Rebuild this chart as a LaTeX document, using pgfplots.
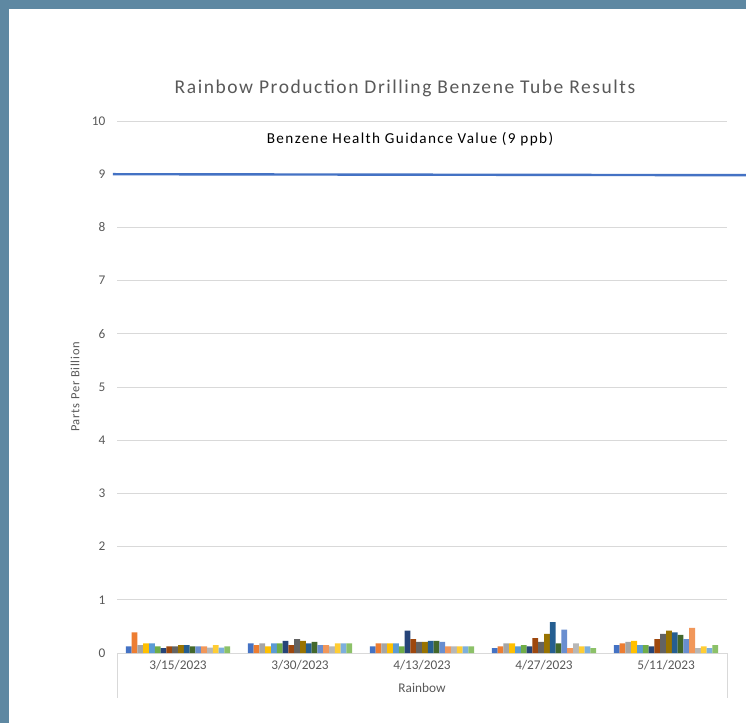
\documentclass[border=0pt]{standalone}
\usepackage{pgfplots}
\pgfplotsset{compat=1.18}
\usepackage{pgfplotstable}
\usepackage{fontspec}
\setmainfont{Carlito}
\newfontfamily\titlefont[LetterSpace=8]{Carlito}
\newfontfamily\annfont[LetterSpace=9]{Carlito}
\newfontfamily\labfont[LetterSpace=6]{Carlito}
\definecolor{c1}{HTML}{4472C4}
\definecolor{c2}{HTML}{ED7D31}
\definecolor{c3}{HTML}{A5A5A5}
\definecolor{c4}{HTML}{FFC000}
\definecolor{c5}{HTML}{5B9BD5}
\definecolor{c6}{HTML}{70AD47}
\definecolor{c7}{HTML}{264478}
\definecolor{c8}{HTML}{9E480E}
\definecolor{c9}{HTML}{636363}
\definecolor{c10}{HTML}{997300}
\definecolor{c11}{HTML}{255E91}
\definecolor{c12}{HTML}{43682B}
\definecolor{c13}{HTML}{698ED0}
\definecolor{c14}{HTML}{F1975A}
\definecolor{c15}{HTML}{B7B7B7}
\definecolor{c16}{HTML}{FFCD33}
\definecolor{c17}{HTML}{7CAFDD}
\definecolor{c18}{HTML}{8CC168}
\definecolor{txt}{HTML}{595959}
\definecolor{gridc}{HTML}{D9D9D9}
\definecolor{framec}{HTML}{5E88A2}

\pgfplotstableread{
x s1 s2 s3 s4 s5 s6 s7 s8 s9 s10 s11 s12 s13 s14 s15 s16 s17 s18
0 0.125 0.39 0.15 0.18 0.18 0.125 0.094 0.125 0.125 0.15 0.15 0.125 0.125 0.125 0.10 0.15 0.10 0.125
1 0.18 0.15 0.18 0.125 0.18 0.18 0.23 0.15 0.26 0.23 0.18 0.21 0.15 0.15 0.125 0.18 0.18 0.18
2 0.125 0.18 0.18 0.18 0.18 0.125 0.42 0.26 0.21 0.21 0.23 0.23 0.21 0.125 0.125 0.125 0.125 0.125
3 0.094 0.125 0.18 0.18 0.125 0.15 0.125 0.28 0.21 0.36 0.58 0.18 0.44 0.094 0.18 0.125 0.125 0.094
4 0.15 0.18 0.21 0.23 0.15 0.15 0.125 0.26 0.36 0.42 0.39 0.34 0.26 0.47 0.094 0.125 0.094 0.15
}\data

\begin{document}
\begin{tikzpicture}
\path[use as bounding box] (0pt,0pt) rectangle (746pt,723pt);
\fill[framec] (0pt,0pt) rectangle (746pt,723pt);
\fill[white] (9pt,0pt) rectangle (746pt,714pt);
\begin{axis}[
  at={(117pt,70pt)}, anchor=south west,
  scale only axis, width=610pt, height=532pt,
  xmin=-0.5, xmax=4.5, ymin=0, ymax=10,
  ytick={0,1,...,10}, xtick={0,1,2,3,4},
  xticklabels={3/15/2023,3/30/2023,4/13/2023,4/27/2023,5/11/2023},
  ymajorgrids, grid style={gridc, line width=0.9pt},
  axis line style={draw=none}, major tick length=0pt,
  clip=false,
  /pgf/number format/assume math mode=true,
  tick label style={font=\fontsize{13.3}{15}\selectfont, text=txt},
  yticklabel style={anchor=east, xshift=-8pt},
  xticklabel style={anchor=center, yshift=-12pt},
]
\pgfplotsinvokeforeach{1,...,18}{
  \addplot[ybar, bar width=5.8pt, bar shift={(#1-9.5)*5.8pt}, fill=c#1, draw=none] table[x=x, y=s#1] {\data};
}
\addplot[sharp plot, color=c1, line width=2.4pt, no marks] coordinates {(-0.533,9) (5.0,8.98)};
\end{axis}
\draw[gridc, line width=0.9pt] (117pt,70pt) -- (117pt,25pt);
\draw[gridc, line width=0.9pt] (727pt,70pt) -- (727pt,25pt);
\node[text=txt, font=\titlefont\fontsize{19.5}{23}\selectfont] at (405pt,635pt) {Rainbow Production Drilling Benzene Tube Results};
\node[text=black, font=\annfont\fontsize{15.2}{18}\selectfont] at (410pt,584pt) {Benzene Health Guidance Value (9 ppb)};
\node[text=txt, font=\labfont\fontsize{12.5}{14}\selectfont, rotate=90] at (75pt,336pt) {Parts Per Billion};
\node[text=txt, font=\fontsize{13.3}{15}\selectfont] at (422pt,35pt) {Rainbow};
\end{tikzpicture}
\end{document}
